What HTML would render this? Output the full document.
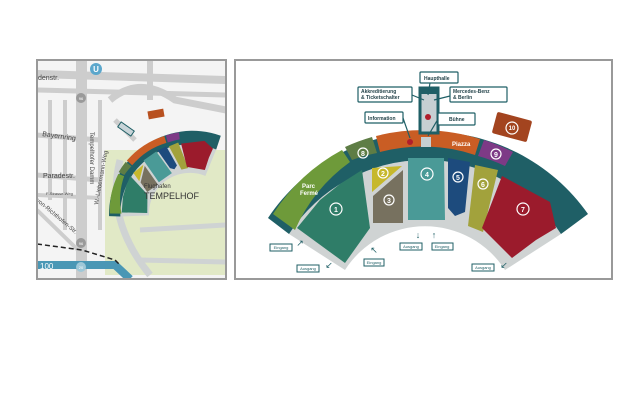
<!DOCTYPE html>
<html><head><meta charset="utf-8"><style>
html,body{margin:0;padding:0;background:#fff;width:640px;height:400px;overflow:hidden}
svg{display:block;font-family:"Liberation Sans",sans-serif}
</style></head><body>
<svg width="640" height="400" viewBox="0 0 640 400" xmlns="http://www.w3.org/2000/svg">
<defs>
<clipPath id="lp"><rect x="38" y="61" width="187" height="217"/></clipPath>
<g id="stadium">
  <path d="M 289 234 A 162 162 0 0 1 561 234 L 505 270 A 95 95 0 0 0 345 270 Z" fill="#cfd3d3"/>
  <path d="M 268 218 A 194 194 0 0 1 588 214 L 561 234 A 162 162 0 0 0 289 234 Z" fill="#1f5f66"/>
  <path d="M 273 214 A 189 189 0 0 1 342 150 L 350 162 A 166 166 0 0 0 295 230 Z" fill="#6e9a3a"/>
  <path d="M 345 147 A 189 189 0 0 1 372 137 L 377 153 A 166 166 0 0 0 352 160 Z" fill="#5e7d45"/>
  <path d="M 376 136 A 189 189 0 0 1 480 139 L 475 155 A 166 166 0 0 0 380 152 Z" fill="#c95d24"/>
  <path d="M 484 140 A 189 189 0 0 1 513 152 L 505 166 A 166 166 0 0 0 478 156 Z" fill="#7d3a86"/>
  <polygon points="297,228 320,200 340,184 362,170 370,228 345,263" fill="#2f7d68"/>
  <polygon points="372,168 402,166 372,192" fill="#c6b82c"/>
  <polygon points="373,196 403,170 403,223 373,223" fill="#77715f"/>
  <polygon points="408,158 444,158 445,220 408,220" fill="#4a9a97"/>
  <polygon points="448,158 470,162 465,212 455,216 448,208" fill="#1d4b7d"/>
  <polygon points="475,165 498,170 483,232 468,226" fill="#a2a23c"/>
  <polygon points="502,176 550,202 556,228 536,240 512,258 482,228" fill="#9b1b2c"/>
</g>
</defs>

<!-- LEFT MAP -->
<rect x="37" y="60" width="189" height="219" fill="#f4f4f4" stroke="#999" stroke-width="2"/>
<g clip-path="url(#lp)">
<g stroke="#cdcdcd" fill="none" stroke-linecap="butt">
  <path d="M 37 74 L 226 80" stroke-width="8"/>
  <path d="M 37 90 L 226 95" stroke-width="5"/>
  <path d="M 110 100 Q 140 75 175 100 L 226 110" stroke-width="7"/>
  <path d="M 37 135 L 100 140" stroke-width="5"/>
  <path d="M 37 175 L 100 180" stroke-width="5"/>
  <path d="M 37 195 L 100 198" stroke-width="4"/>
  <path d="M 37 210 L 78 250" stroke-width="4"/>
  <path d="M 50 100 L 50 200" stroke-width="4"/>
  <path d="M 65 100 L 65 230" stroke-width="4"/>
  <path d="M 100 100 L 100 230" stroke-width="4"/>
  <path d="M 115 120 L 135 140" stroke-width="5"/>
  <path d="M 150 60 L 150 100" stroke-width="6"/>
</g>
<rect x="105" y="150" width="121" height="125" fill="#e1e9c6"/>
<path d="M 120 160 Q 105 220 150 275" stroke="#cfd3d3" stroke-width="7" fill="none"/>
<path d="M 140 230 L 226 225 M 140 260 L 226 262" stroke="#cfd3d3" stroke-width="5" fill="none"/>
<rect x="76" y="60" width="11" height="219" fill="#cdcdcd"/>
<circle cx="81" cy="98" r="5" fill="#9a9a9a"/><text x="81" y="100" font-size="4" fill="#fff" text-anchor="middle">96</text>
<circle cx="81" cy="243" r="5" fill="#9a9a9a"/><text x="81" y="245" font-size="4" fill="#fff" text-anchor="middle">96</text>
<path d="M 37 265 L 100 265 L 115 265 L 130 279" stroke="#4a97b5" stroke-width="8" fill="none"/>
<path d="M 37 244 L 82 250 L 115 260 L 120 265" stroke="#222" stroke-width="1.5" stroke-dasharray="5,3" fill="none"/>
<circle cx="81" cy="267" r="5" fill="#9fc8d8"/><text x="81" y="269" font-size="4" fill="#fff" text-anchor="middle">20</text>
<text x="40" y="269" font-size="8" fill="#fff">100</text>
<circle cx="96" cy="69" r="6" fill="#5ba7cc"/><text x="96" y="72" font-size="8" fill="#fff" text-anchor="middle" font-weight="bold">U</text>
<text x="38" y="80" font-size="7" fill="#444">denstr.</text>
<text x="42" y="136" font-size="7" fill="#444" transform="rotate(8 42 136)">Bayernring</text>
<text x="43" y="178" font-size="7" fill="#444">Paradestr.</text>
<text x="46" y="195" font-size="4" fill="#444">F-Strasse-Weg</text>
<text x="36" y="201" font-size="6" fill="#444" transform="rotate(40 36 201)">von-Richthofen-Str.</text>
<text x="90" y="132" font-size="6" fill="#444" transform="rotate(90 90 132)">Tempelhofer Damm</text>
<text x="98" y="205" font-size="6" fill="#444" transform="rotate(-80 98 205)">W.-Liebermann-Weg</text>
<use href="#stadium" transform="translate(190,214) rotate(-35) scale(0.43) translate(-425,-322)"/>
<text x="144" y="188" font-size="6" fill="#333">Flughafen</text>
<text x="144" y="199" font-size="9" fill="#333">TEMPELHOF</text>
<rect x="148" y="110" width="16" height="8" fill="#b8501f" transform="rotate(-10 156 114)"/>
<rect x="118" y="126" width="16" height="6" fill="#c8d4d8" stroke="#1f5f66" transform="rotate(35 126 129)"/>
</g>

<!-- RIGHT MAP -->
<rect x="235" y="60" width="377" height="219" fill="#fff" stroke="#999" stroke-width="2"/>
<use href="#stadium"/>
<rect x="420" y="88" width="18" height="45" fill="#c6cfd2" stroke="#1f5f66" stroke-width="3"/>
<rect x="420" y="88" width="18" height="6" fill="#1f5f66"/>
<circle cx="428" cy="117" r="3" fill="#b01e2c"/>
<circle cx="410" cy="142" r="3" fill="#b01e2c"/>
<rect x="421" y="137" width="10" height="10" fill="#c6cfd2"/>
<g transform="rotate(15 512 127)"><rect x="494" y="116" width="36" height="22" rx="2" fill="#a3441f"/></g>
<text x="452" y="146" font-size="6" fill="#fff" font-weight="bold">Piazza</text>
<text x="302" y="188" font-size="6" fill="#fff" font-weight="bold">Parc</text>
<text x="300" y="195" font-size="6" fill="#fff" font-weight="bold">Fermé</text>
<g fill="none" stroke="#fff" stroke-width="1.2">
<circle cx="336" cy="209" r="6"/><circle cx="383" cy="173" r="5"/><circle cx="389" cy="200" r="5"/>
<circle cx="427" cy="174" r="6"/><circle cx="458" cy="177" r="5"/><circle cx="483" cy="184" r="5"/>
<circle cx="523" cy="209" r="6"/><circle cx="363" cy="153" r="5"/><circle cx="496" cy="154" r="5"/><circle cx="512" cy="128" r="6"/>
</g>
<g fill="#fff" font-size="7" font-weight="bold" text-anchor="middle">
<text x="336" y="212">1</text><text x="383" y="176">2</text><text x="389" y="203">3</text><text x="427" y="177">4</text>
<text x="458" y="180">5</text><text x="483" y="187">6</text><text x="523" y="212">7</text><text x="363" y="156">8</text>
<text x="496" y="157">9</text><text x="512" y="130" font-size="6">10</text>
</g>
<g fill="#fff" stroke="#1f5f66" stroke-width="1.2">
<rect x="420" y="72" width="38" height="11" rx="1"/>
<rect x="358" y="87" width="54" height="15" rx="1"/>
<rect x="450" y="87" width="57" height="15" rx="1"/>
<rect x="365" y="112" width="38" height="11" rx="1"/>
<rect x="438" y="113" width="37" height="12" rx="1"/>
</g>
<g stroke="#1f5f66" stroke-width="1.2">
<line x1="430" y1="83" x2="428" y2="95"/><line x1="412" y1="95" x2="424" y2="100"/>
<line x1="450" y1="96" x2="434" y2="100"/><line x1="403" y1="118" x2="410" y2="138"/>
<line x1="438" y1="119" x2="428" y2="136"/>
</g>
<g fill="#1f3f46" font-size="5" font-weight="bold">
<text x="424" y="80">Haupthalle</text>
<text x="361" y="93">Akkreditierung</text><text x="361" y="99">&amp; Ticketschalter</text>
<text x="453" y="93">Mercedes-Benz</text><text x="453" y="99">&amp; Berlin</text>
<text x="368" y="120">Information</text>
<text x="449" y="121">Bühne</text>
</g>
<g fill="#fff" stroke="#1f5f66" stroke-width="1">
<rect x="270" y="244" width="22" height="7"/><rect x="297" y="265" width="22" height="7"/>
<rect x="364" y="259" width="20" height="7"/><rect x="400" y="243" width="22" height="7"/>
<rect x="432" y="243" width="21" height="7"/><rect x="472" y="264" width="22" height="7"/>
</g>
<g fill="#1f5f66" font-size="4" text-anchor="middle">
<text x="281" y="249">Eingang</text><text x="308" y="270">Ausgang</text><text x="374" y="264">Eingang</text>
<text x="411" y="248">Ausgang</text><text x="442" y="248">Eingang</text><text x="483" y="269">Ausgang</text>
</g>
<g fill="#1f5f66" font-size="9" text-anchor="middle">
<text x="300" y="246">↗</text><text x="329" y="268">↙</text><text x="374" y="253">↖</text>
<text x="418" y="238">↓</text><text x="434" y="238">↑</text><text x="504" y="268">↙</text>
</g>
</svg>
</body></html>
